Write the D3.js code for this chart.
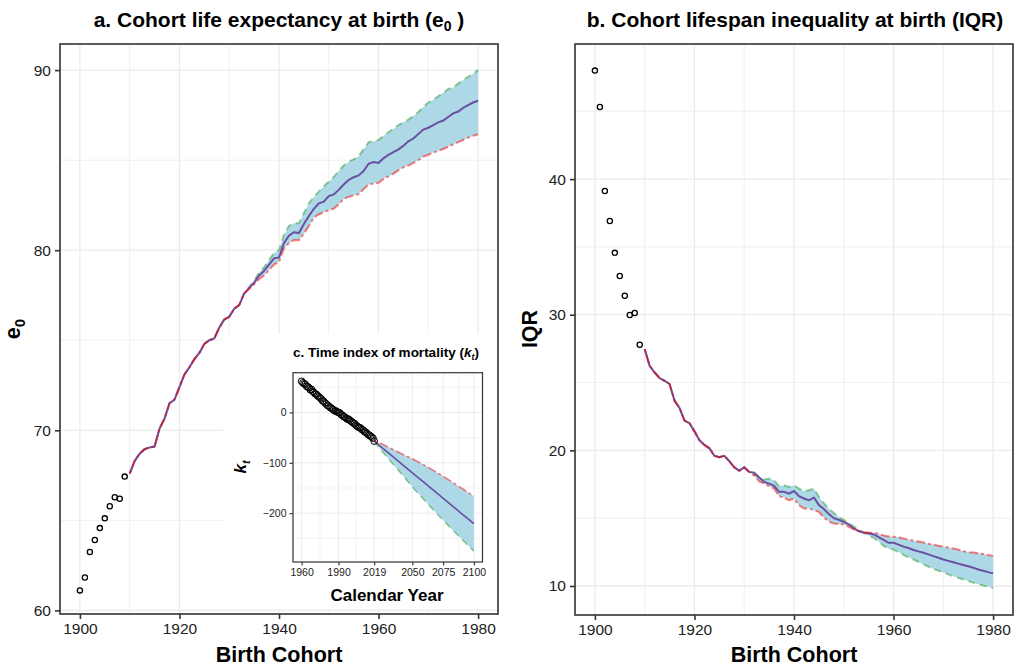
<!DOCTYPE html>
<html><head><meta charset="utf-8">
<script src="https://cdn.jsdelivr.net/npm/d3@7"></script>
<style>body{margin:0;background:#fff;} text{font-family:"Liberation Sans",Arial,Helvetica,sans-serif;}</style>
</head><body><script>
// ---------------- DATA ----------------
const cohortObs = [1900,1901,1902,1903,1904,1905,1906,1907,1908,1909];
const e0Obs  = [61.11,61.83,63.24,63.91,64.57,65.11,65.78,66.28,66.20,67.43];
const iqrObs = [48.0,45.32,39.12,36.91,34.56,32.85,31.4,29.98,30.13,27.79];

const cohortFit = [1910,1911,1912,1913,1914,1915,1916,1917,1918,1919,1920,1921,1922,1923,1924,1925,1926,1927,1928,1929,
  1930,1931,1932,1933,1934,1935,1936,1937,1938,1939,1940,1941,1942,1943,1944,1945,1946,1947,1948,1949,
  1950,1951,1952,1953,1954,1955,1956,1957,1958,1959,1960,1961,1962,1963,1964,1965,1966,1967,1968,1969,
  1970,1971,1972,1973,1974,1975,1976,1977,1978,1979,1980];
const e0Fit = [67.6,68.3,68.7,68.95,69.05,69.1,70.1,70.65,71.5,71.7,72.4,73.1,73.5,73.95,74.3,74.8,75.0,75.1,75.7,76.15,
  76.3,76.75,76.95,77.6,77.9,78.2,78.6,78.85,79.2,79.55,79.6,80.4,80.8,81.0,80.95,81.45,81.9,82.3,82.6,82.7,
  83.0,83.1,83.35,83.65,83.9,84.05,84.15,84.4,84.8,84.9,84.85,85.1,85.3,85.45,85.6,85.8,86.05,86.2,86.45,86.7,
  86.8,86.95,87.1,87.2,87.4,87.6,87.7,87.9,88.05,88.2,88.3];
const iqrFit = [27.45,26.23,25.74,25.33,25.13,24.89,23.66,23.13,22.2,22.0,21.4,20.75,20.4,20.15,19.6,19.5,19.6,19.2,18.75,18.5,
  18.75,18.41,18.35,18.0,17.67,17.55,17.38,16.94,16.94,16.81,17.0,16.62,16.45,16.32,16.52,15.96,15.68,15.3,15.0,14.88,
  14.72,14.55,14.24,14.05,13.93,13.88,13.8,13.6,13.4,13.18,13.18,13.05,12.9,12.8,12.65,12.55,12.45,12.33,12.2,12.08,
  11.95,11.85,11.75,11.65,11.55,11.45,11.35,11.22,11.12,11.02,10.93];

// uncertainty bounds (green = dashed, red = dot-dash)
const e0BandStart = 1933;
const e0Green = [77.62,77.95,78.3,78.75,79.05,79.45,79.85,80.0,80.85,81.35,81.5,81.5,82.05,82.6,82.95,83.25,83.55,
  83.8,84.07,84.4,84.7,84.9,85.05,85.2,85.6,86.0,86.05,86.12,86.35,86.55,86.75,86.95,87.1,87.25,87.45,87.67,87.95,
  88.2,88.35,88.55,88.75,88.95,89.05,89.25,89.45,89.63,89.8,90.0];
const e0Red = [77.58,77.85,78.1,78.4,78.6,78.9,79.2,79.35,80.1,80.4,80.56,80.55,80.93,81.35,81.8,82.0,82.1,
  82.22,82.31,82.55,82.85,82.96,83.05,83.11,83.4,83.65,83.7,83.74,83.95,84.1,84.25,84.45,84.6,84.7,84.85,85.0,85.2,
  85.3,85.42,85.52,85.62,85.75,85.88,86.0,86.12,86.25,86.35,86.44];

const iqrBandStart = 1931;
const iqrGreen = [18.41,18.18,18.04,17.84,17.92,17.79,17.35,17.42,17.3,17.43,17.18,17.01,17.06,17.18,16.57,16.1,15.7,15.38,15.1,
  14.88,14.63,14.39,14.15,13.95,13.7,13.55,13.27,12.97,12.75,12.68,12.48,12.3,12.12,11.95,11.78,11.6,11.42,11.26,11.13,
  11.0,10.86,10.72,10.6,10.48,10.36,10.25,10.13,10.03,9.94,9.85];
const iqrRed = [18.41,18.16,17.7,17.55,17.35,17.18,16.62,16.5,16.32,16.45,15.96,15.71,15.71,15.59,15.47,15.05,14.75,14.6,14.56,
  14.56,14.36,14.17,14.05,13.96,13.93,13.93,13.85,13.72,13.65,13.63,13.59,13.5,13.42,13.33,13.28,13.2,13.12,13.05,12.97,
  12.9,12.83,12.77,12.68,12.57,12.5,12.46,12.41,12.35,12.28,12.22];

// inset: k_t
const yearObs = [1960,1961,1962,1963,1964,1965,1966,1967,1968,1969,1970,1971,1972,1973,1974,1975,1976,1977,1978,1979,
  1980,1981,1982,1983,1984,1985,1986,1987,1988,1989,1990,1991,1992,1993,1994,1995,1996,1997,1998,1999,
  2000,2001,2002,2003,2004,2005,2006,2007,2008,2009,2010,2011,2012,2013,2014,2015,2016,2017,2018,2019];
const ktObs = [62,59,57,56,52,51,49,45,46,42,40,37,36,33,31,29,27,23,22,19,
  17,14,13,10,9,7,5,3,3,1,0,-1,-4,-5,-8,-9,-11,-13,-13,-15,
  -17,-19,-21,-22,-25,-27,-29,-30,-31,-34,-35,-38,-39,-41,-44,-45,-47,-49,-51,-57];
const yearFc  = [2019,2025,2030,2040,2050,2060,2070,2080,2090,2100];
const ktFc    = [-57,-69.2,-79.3,-99.5,-119.8,-140,-160.3,-180.5,-200.8,-221];
const ktRed   = [-57,-62.2,-68.3,-80.5,-91.8,-105,-119.3,-134.5,-150.3,-166.5];
const ktGreen = [-57,-76.2,-90.3,-118.5,-147.8,-175,-201.3,-226.5,-251.3,-275.5];

const cohortTicks = [1900,1920,1940,1960,1980];
const cohortMinor = [1910,1930,1950,1970];
const e0Ticks = [60,70,80,90], e0Minor = [65,75,85];
const iqrTicks = [10,20,30,40], iqrMinor = [15,25,35,45];
const yearTicks = [1960,1990,2019,2050,2075,2100];
const yearMinor = [1975,2004.5,2034.5,2062.5,2087.5];
const ktTicks = [0,-100,-200], ktMinor = [50,-50,-150,-250];

// ---------------- STYLE ----------------
const C = {ribbon:"#ADD8E6", main:"#6A4FA3", red:"#FF0000", green:"#2E9E2E",
           grid:"#EBEBEB", dark:"#333333", tick:"#222222"};

const W=1019, H=668;
const svg = d3.select("body").append("svg").attr("width",W).attr("height",H);
svg.append("rect").attr("width",W).attr("height",H).attr("fill","#fff");

function drawPanel(o){
  const g = svg.append("g");
  const [xl,xr] = o.x.range(), [yb,yt] = o.y.range();
  const grid = (vals, vert, w) => g.append("g").selectAll("line").data(vals).join("line")
     .attr("x1",d=>vert?o.x(d):xl).attr("x2",d=>vert?o.x(d):xr)
     .attr("y1",d=>vert?yt:o.y(d)).attr("y2",d=>vert?yb:o.y(d))
     .attr("stroke",C.grid).attr("stroke-width",w);
  grid(o.xMinor,true,o.minorW); grid(o.yMinor,false,o.minorW);
  grid(o.xMajor,true,o.majorW); grid(o.yMajor,false,o.majorW);
  return g;
}
function finishPanel(g,o){
  const [xl,xr] = o.x.range(), [yb,yt] = o.y.range();
  g.append("rect").attr("x",xl).attr("y",yt).attr("width",xr-xl).attr("height",yb-yt)
    .attr("fill","none").attr("stroke",C.dark).attr("stroke-width",o.borderW);
  const ax = g.append("g").attr("transform",`translate(0,${yb})`)
    .call(d3.axisBottom(o.x).tickValues(o.xMajor).tickFormat(d3.format("d")).tickSize(o.tickLen).tickPadding(o.pad));
  const ay = g.append("g").attr("transform",`translate(${xl},0)`)
    .call(d3.axisLeft(o.y).tickValues(o.yMajor).tickFormat(d3.format("d")).tickSize(o.tickLen).tickPadding(o.pad));
  [ax,ay].forEach(a=>{
    a.select(".domain").remove();
    a.selectAll(".tick line").attr("stroke",C.dark).attr("stroke-width",o.tickW);
    a.selectAll(".tick text").attr("fill",C.tick).attr("font-size",o.fs)
      .style("font-family","'Liberation Sans',Arial,sans-serif");
  });
}
function bandLines(g, x, y, xs, mid, green, red, lw){
  const lineGen = d3.line().x(d=>x(d[0])).y(d=>y(d[1]));
  const pts = (a)=>xs.map((v,i)=>[v,a[i]]);
  g.append("path").datum(xs.map((v,i)=>[v,green[i],red[i]]))
    .attr("d", d3.area().x(d=>x(d[0])).y0(d=>y(d[2])).y1(d=>y(d[1])))
    .attr("fill",C.ribbon);
  g.append("path").datum(pts(green)).attr("d",lineGen).attr("fill","none")
    .attr("stroke",C.green).attr("stroke-opacity",0.5).attr("stroke-width",lw).attr("stroke-dasharray","7,5");
  g.append("path").datum(pts(mid)).attr("d",lineGen).attr("fill","none")
    .attr("stroke",C.main).attr("stroke-width",lw);
  g.append("path").datum(pts(red)).attr("d",lineGen).attr("fill","none")
    .attr("stroke",C.red).attr("stroke-opacity",0.5).attr("stroke-width",lw).attr("stroke-dasharray","3,3,9,3");
}
function fullBound(fitYears, fit, start, band){
  return fitYears.map((yr,i)=> yr < start ? fit[i] : band[yr-start]);
}
function circlesDraw(g,x,y,xs,ys,r,sw){
  g.append("g").selectAll("circle").data(xs.map((v,i)=>[v,ys[i]])).join("circle")
    .attr("cx",d=>x(d[0])).attr("cy",d=>y(d[1])).attr("r",r)
    .attr("fill","none").attr("stroke","#000").attr("stroke-width",sw);
}

const common = {xMajor:cohortTicks, xMinor:cohortMinor, majorW:1.3, minorW:0.8, borderW:1.6,
                tickLen:5, tickW:1.6, pad:4, fs:15.5};

// ---------- Panel a ----------
const xa = d3.scaleLinear().domain([1896,1984]).range([60,498]);
const ya = d3.scaleLinear().domain([59.8,91.45]).range([614,44]);
const oa = Object.assign({x:xa,y:ya,yMajor:e0Ticks,yMinor:e0Minor},common);
const ga = drawPanel(oa);
bandLines(ga, xa, ya, cohortFit, e0Fit,
  fullBound(cohortFit,e0Fit,e0BandStart,e0Green), fullBound(cohortFit,e0Fit,e0BandStart,e0Red), 2);
circlesDraw(ga, xa, ya, cohortObs, e0Obs, 2.6, 1.3);

// ---------- Panel b ----------
const xb = d3.scaleLinear().domain([1896,1984]).range([575,1013]);
const yb = d3.scaleLinear().domain([7.86,49.96]).range([615,44]);
const ob = Object.assign({x:xb,y:yb,yMajor:iqrTicks,yMinor:iqrMinor},common);
const gb = drawPanel(ob);
bandLines(gb, xb, yb, cohortFit, iqrFit,
  fullBound(cohortFit,iqrFit,iqrBandStart,iqrGreen), fullBound(cohortFit,iqrFit,iqrBandStart,iqrRed), 2);
circlesDraw(gb, xb, yb, cohortObs, iqrObs, 2.6, 1.3);
finishPanel(gb, ob);

// ---------- Inset c ----------
svg.append("rect").attr("x",223).attr("y",334).attr("width",274).attr("height",275).attr("fill","#fff");
finishPanel(ga, oa);
const xc = d3.scaleLinear().domain([1953,2107]).range([293,482.5]);
const yc = d3.scaleLinear().domain([-297,79]).range([562,372.7]);
const oc = {x:xc,y:yc,xMajor:yearTicks,xMinor:yearMinor,yMajor:ktTicks,yMinor:ktMinor,
            majorW:1.0,minorW:0.6,borderW:1.2,tickLen:3.5,tickW:1.1,pad:3,fs:10.5};
const gc = drawPanel(oc);
bandLines(gc, xc, yc, yearFc, ktFc, ktGreen, ktRed, 1.6);
circlesDraw(gc, xc, yc, yearObs, ktObs, 3.3, 1.0);
finishPanel(gc, oc);

// ---------- Texts ----------
function bold(t){ return t.attr("font-weight","bold").attr("fill","#000"); }
const ta = bold(svg.append("text").attr("x",279).attr("y",27).attr("text-anchor","middle").attr("font-size",21));
ta.append("tspan").text("a. Cohort life expectancy at birth (e");
ta.append("tspan").attr("dy",4).attr("font-size",14).text("0");
ta.append("tspan").attr("dy",-4).text(" )");
bold(svg.append("text").attr("x",795).attr("y",27).attr("text-anchor","middle").attr("font-size",21))
  .text("b. Cohort lifespan inequality at birth (IQR)");
bold(svg.append("text").attr("x",279).attr("y",662).attr("text-anchor","middle").attr("font-size",21.5)).text("Birth Cohort");
bold(svg.append("text").attr("x",794).attr("y",662).attr("text-anchor","middle").attr("font-size",21.5)).text("Birth Cohort");
const ea = bold(svg.append("text").attr("transform","translate(20,329) rotate(-90)").attr("text-anchor","middle").attr("font-size",21.5));
ea.append("tspan").text("e");
ea.append("tspan").attr("dy",5).attr("font-size",15).text("0");
bold(svg.append("text").attr("transform","translate(537,329) rotate(-90)").attr("text-anchor","middle").attr("font-size",21.5)).text("IQR");
const tc = bold(svg.append("text").attr("x",386).attr("y",357).attr("text-anchor","middle").attr("font-size",13.5));
tc.append("tspan").text("c. Time index of mortality (");
tc.append("tspan").attr("font-style","italic").text("k");
tc.append("tspan").attr("font-style","italic").attr("dy",3).attr("font-size",9).text("t");
tc.append("tspan").attr("dy",-3).text(")");
bold(svg.append("text").attr("x",387).attr("y",601).attr("text-anchor","middle").attr("font-size",17)).text("Calendar Year");
const kc = bold(svg.append("text").attr("transform","translate(246,467) rotate(-90)").attr("text-anchor","middle").attr("font-size",17));
kc.append("tspan").attr("font-style","italic").text("k");
kc.append("tspan").attr("font-style","italic").attr("dy",4).attr("font-size",11).text("t");
</script></body></html>
